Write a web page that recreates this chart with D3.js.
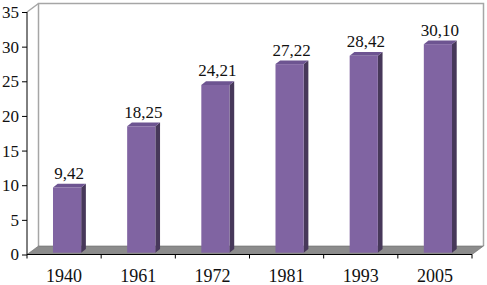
<!DOCTYPE html>
<html>
<head>
<meta charset="utf-8">
<script src="https://cdn.jsdelivr.net/npm/d3@7"></script>
<style>
  body { margin: 0; background: #fff; }
  svg text { font-family: "Liberation Serif", "Times New Roman", Times, serif; fill: #111; }
</style>
</head>
<body>
<div id="chart"></div>
<script>
"use strict";
var w = 487;
var h = 285;

// data
var years = ["1940", "1961", "1972", "1981", "1993", "2005"];
var values = [9.42, 18.25, 24.21, 27.22, 28.42, 30.10];
var labels = ["9,42", "18,25", "24,21", "27,22", "28,42", "30,10"];
var yTicks = [0, 5, 10, 15, 20, 25, 30, 35];

var left = 27, right = 472;   // front plane
var depthX = 11.5, depthY = -8.5; // wall depth
var barFx = 3, barFy = -1.8;      // bar front face offset
var barDx = 4.7, barDy = -3.7;    // bar depth

var x = d3.scaleBand().domain(years).range([left, right]).padding(0);
var y = d3.scaleLinear().domain([0, 35]).range([254.5, 12]);

var svg = d3.select("#chart").append("svg")
    .attr("width", w)
    .attr("height", h);

var y0 = y(0), yTop = y(35);

// back wall + left wall outline
svg.append("path")
    .attr("d", "M" + (left + depthX) + "," + (y0 + depthY) +
               "V" + (yTop + depthY) + "H" + (right + depthX) + "V" + (y0 + depthY))
    .attr("fill", "none")
    .attr("stroke", "#a6a6a6")
    .attr("stroke-width", 1.5);
svg.append("line")
    .attr("x1", left).attr("y1", yTop)
    .attr("x2", left + depthX).attr("y2", yTop + depthY)
    .attr("stroke", "#a6a6a6").attr("stroke-width", 1.5);

// floor
svg.append("path")
    .attr("d", "M" + left + "," + y0 + "L" + (left + depthX) + "," + (y0 + depthY) +
               "L" + (right + depthX) + "," + (y0 + depthY) + "L" + right + "," + y0 + "Z")
    .attr("fill", "#8c8c8c")
    .attr("stroke", "#6a6a6a")
    .attr("stroke-width", 0.6);

var bw = x.bandwidth() * 0.38;
var bars = svg.selectAll(".bar")
    .data(years)
    .enter()
    .append("g")
    .attr("class", "bar");

function bx(d) { return x(d) + (x.bandwidth() - bw) / 2 + barFx; }
function by(d, i) { return y(values[i]) + barFy; }
function bb() { return y0 + barFy; }

// side face
bars.append("path")
    .attr("d", function(d, i) {
        var x1 = bx(d) + bw, t = by(d, i), b = bb();
        return "M" + x1 + "," + t + "L" + (x1 + barDx) + "," + (t + barDy) +
               "L" + (x1 + barDx) + "," + (b + barDy) + "L" + x1 + "," + b + "Z";
    })
    .attr("fill", "#47385a");
// top face
bars.append("path")
    .attr("d", function(d, i) {
        var x0 = bx(d), t = by(d, i);
        return "M" + x0 + "," + t + "L" + (x0 + barDx) + "," + (t + barDy) +
               "L" + (x0 + bw + barDx) + "," + (t + barDy) + "L" + (x0 + bw) + "," + t + "Z";
    })
    .attr("fill", "#6d5491");
// front face
bars.append("rect")
    .attr("x", bx)
    .attr("y", by)
    .attr("width", bw)
    .attr("height", function(d, i) { return bb() - by(d, i); })
    .attr("fill", "#8064a2");

// value labels
bars.append("text")
    .attr("x", function(d) { return bx(d) + bw / 2 + 2; })
    .attr("y", function(d, i) { return by(d, i) - 8.5; })
    .attr("text-anchor", "middle")
    .style("font-size", "17px")
    .text(function(d, i) { return labels[i]; });

// y axis
var yAxis = d3.axisLeft(y).tickValues(yTicks).tickSize(5).tickPadding(3)
    .tickFormat(d3.format("d"));
var gy = svg.append("g")
    .attr("transform", "translate(" + left + ",0)")
    .call(yAxis);
gy.select(".domain").attr("d", "M0," + yTop + "V" + (y0 + 4)).attr("stroke", "#000");
gy.selectAll(".tick line").attr("stroke", "#000");
gy.attr("font-family", null).attr("font-size", null);
gy.selectAll(".tick text")
    .style("font-size", "17px")
    .attr("fill", "#111");

// x axis
svg.append("line")
    .attr("x1", left).attr("y1", y0)
    .attr("x2", right).attr("y2", y0)
    .attr("stroke", "#000");
svg.selectAll(".xtick")
    .data(years)
    .enter()
    .append("line")
    .attr("class", "xtick")
    .attr("x1", function(d) { return x(d) + x.bandwidth(); })
    .attr("x2", function(d) { return x(d) + x.bandwidth(); })
    .attr("y1", y0)
    .attr("y2", y0 + 4)
    .attr("stroke", "#000");
svg.selectAll(".xlabel")
    .data(years)
    .enter()
    .append("text")
    .attr("class", "xlabel")
    .attr("x", function(d) { return x(d) + x.bandwidth() / 2; })
    .attr("y", 282)
    .attr("text-anchor", "middle")
    .style("font-size", "18px")
    .text(function(d) { return d; });
</script>
</body>
</html>
